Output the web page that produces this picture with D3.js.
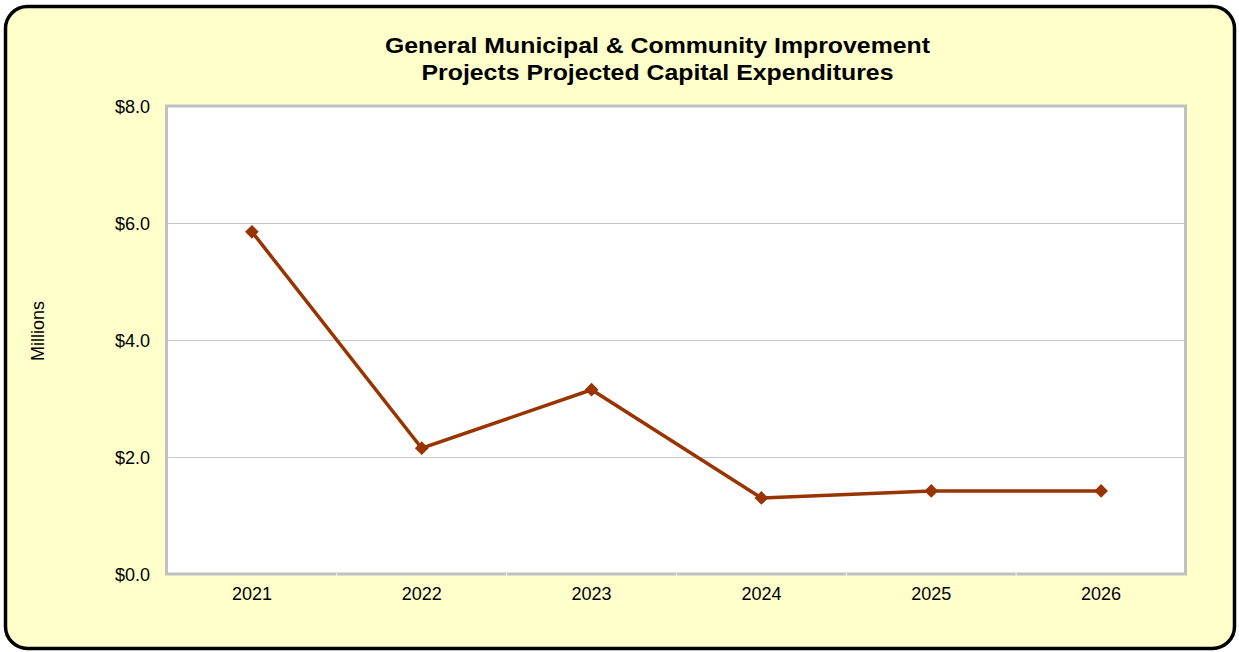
<!DOCTYPE html>
<html><head><meta charset="utf-8">
<script src="https://cdn.jsdelivr.net/npm/d3@7"></script>
<style>html,body{margin:0;padding:0;background:#fff;}svg{display:block;}</style>
</head><body>
<script>
const years = ["2021","2022","2023","2024","2025","2026"];
const values = [5.85, 2.15, 3.15, 1.30, 1.42, 1.42];
const yTicks = [0, 2, 4, 6, 8];
const titleLines = ["General Municipal & Community Improvement", "Projects Projected Capital Expenditures"];
const yLabel = "Millions";

const W = 1239, H = 652;
const svg = d3.select("body").append("svg").attr("width", W).attr("height", H);
const font = "Liberation Sans, Arial, sans-serif";

svg.append("rect").attr("x", 5.5).attr("y", 6.5).attr("width", 1229).attr("height", 642)
  .attr("rx", 22).attr("ry", 22).attr("fill", "#FFFFCC").attr("stroke", "#000").attr("stroke-width", 3.5);

const m = {l: 167, t: 106, r: 1186, b: 574};
const x = d3.scaleBand().domain(years).range([m.l, m.r]);
const y = d3.scaleLinear().domain([0, 8]).range([m.b, m.t]);

svg.append("rect").attr("x", m.l).attr("y", m.t).attr("width", m.r - m.l).attr("height", m.b - m.t)
  .attr("fill", "#fff");

svg.append("g").selectAll("line").data(yTicks.slice(1, -1)).join("line")
  .attr("x1", m.l).attr("x2", m.r).attr("y1", d => y(d) + 0.5).attr("y2", d => y(d) + 0.5)
  .attr("stroke", "#c8c8c8").attr("stroke-width", 1);

svg.append("rect").attr("x", m.l - 0.5).attr("y", m.t).attr("width", m.r - m.l).attr("height", m.b - m.t)
  .attr("fill", "none").attr("stroke", "#c0c0c0").attr("stroke-width", 3);

svg.append("g").selectAll("line").data(years.slice(1)).join("line")
  .attr("x1", d => x(d)).attr("x2", d => x(d)).attr("y1", m.b - 1).attr("y2", m.b + 2)
  .attr("stroke", "#f4f4f4").attr("stroke-width", 1);

const yAxis = d3.axisLeft(y).tickValues(yTicks).tickFormat(d => "$" + d3.format(".1f")(d)).tickSize(0).tickPadding(17);
const ya = svg.append("g").attr("transform", `translate(${m.l},0)`).call(yAxis);
ya.select(".domain").remove();
ya.selectAll("text").attr("font-family", font).attr("font-size", 18).attr("fill", "#000").attr("dy", "0.35em");

const xAxis = d3.axisBottom(x).tickSize(0).tickPadding(13);
const xa = svg.append("g").attr("transform", `translate(0,${m.b})`).call(xAxis);
xa.select(".domain").remove();
xa.selectAll("text").attr("font-family", font).attr("font-size", 18).attr("fill", "#000");

const cx = d => x(d) + x.bandwidth() / 2;
const line = d3.line().x((d, i) => cx(years[i])).y(d => y(d));
svg.append("path").datum(values).attr("d", line).attr("fill", "none")
  .attr("stroke", "#993300").attr("stroke-width", 3.5).attr("stroke-linejoin", "miter");

svg.append("g").selectAll("path").data(values).join("path")
  .attr("d", d3.symbol().type(d3.symbolDiamond2).size(120))
  .attr("transform", (d, i) => `translate(${cx(years[i])},${y(d)})`)
  .attr("fill", "#993300");

const titleWidths = [545, 472];
svg.append("g").selectAll("text").data(titleLines).join("text")
  .attr("x", 657.5).attr("y", (d, i) => 53 + i * 27)
  .attr("text-anchor", "middle").attr("font-family", font).attr("font-size", 22).attr("font-weight", "bold")
  .attr("textLength", (d, i) => titleWidths[i]).attr("lengthAdjust", "spacingAndGlyphs")
  .text(d => d);

svg.append("text").attr("transform", "translate(44,331) rotate(-90)").attr("text-anchor", "middle")
  .attr("font-family", font).attr("font-size", 18).text(yLabel);
</script>
</body></html>
